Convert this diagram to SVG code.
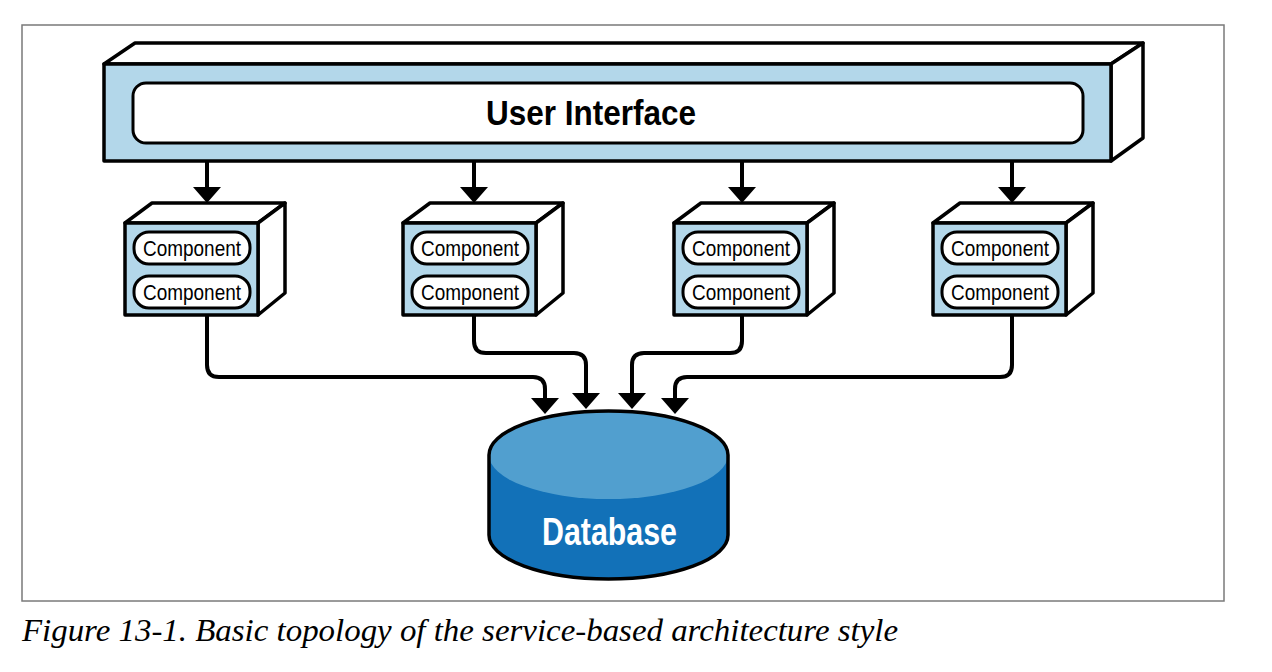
<svg xmlns="http://www.w3.org/2000/svg" width="1272" height="672" viewBox="0 0 1272 672">
<style>
.frame{fill:#ffffff;stroke:#7a7a7a;stroke-width:1.5}
.face{fill:#b3d7ea;stroke:#000;stroke-width:3.5;stroke-linejoin:round}
.side{fill:#ffffff;stroke:#000;stroke-width:3.5;stroke-linejoin:round}
.pill{fill:#ffffff;stroke:#000;stroke-width:3}
.conn{fill:none;stroke:#000;stroke-width:4}
.ui{font-family:"Liberation Sans",Arial,sans-serif;font-weight:bold;font-size:35px;fill:#000}
.comp{font-family:"Liberation Sans",Arial,sans-serif;font-size:22px;fill:#000}
.db{font-family:"Liberation Sans",Arial,sans-serif;font-weight:bold;font-size:38px;fill:#fff}
.cap{font-family:"Liberation Serif","Times New Roman",serif;font-style:italic;font-size:31px;fill:#000}
</style>
<defs>
<marker id="ah" markerUnits="userSpaceOnUse" markerWidth="16" markerHeight="28" viewBox="0 0 16 28" refX="0" refY="14" orient="auto">
<path d="M0,0 L16,14 L0,28 Z" fill="#000"/>
</marker>
</defs>
<rect class="frame" x="22" y="25" width="1202" height="576"/>

<g id="user-interface">
<polygon class="side" points="104,64 135,43 1143,43 1111,64"/>
<polygon class="side" points="1111,64 1143,43 1143,138 1111,161"/>
<rect class="face" x="104" y="64" width="1007" height="97"/>
<rect class="pill" x="133" y="83" width="950" height="60" rx="13"/>
<text class="ui" x="591" y="125" text-anchor="middle" textLength="210" lengthAdjust="spacingAndGlyphs">User Interface</text>
</g>

<g id="service-1">
<polygon class="side" points="125,223 152,203 285,203 258,223"/>
<polygon class="side" points="258,223 285,203 285,293 258,315"/>
<rect class="face" x="125" y="223" width="133" height="92"/>
<rect class="pill" x="134" y="232" width="116" height="32" rx="15"/>
<text class="comp" x="192" y="256" text-anchor="middle" textLength="98" lengthAdjust="spacingAndGlyphs">Component</text>
<rect class="pill" x="134" y="276" width="116" height="32" rx="15"/>
<text class="comp" x="192" y="300" text-anchor="middle" textLength="98" lengthAdjust="spacingAndGlyphs">Component</text>
</g>

<g id="service-2">
<polygon class="side" points="403,223 430,203 563,203 536,223"/>
<polygon class="side" points="536,223 563,203 563,293 536,315"/>
<rect class="face" x="403" y="223" width="133" height="92"/>
<rect class="pill" x="412" y="232" width="116" height="32" rx="15"/>
<text class="comp" x="470" y="256" text-anchor="middle" textLength="98" lengthAdjust="spacingAndGlyphs">Component</text>
<rect class="pill" x="412" y="276" width="116" height="32" rx="15"/>
<text class="comp" x="470" y="300" text-anchor="middle" textLength="98" lengthAdjust="spacingAndGlyphs">Component</text>
</g>

<g id="service-3">
<polygon class="side" points="674,223 701,203 834,203 807,223"/>
<polygon class="side" points="807,223 834,203 834,293 807,315"/>
<rect class="face" x="674" y="223" width="133" height="92"/>
<rect class="pill" x="683" y="232" width="116" height="32" rx="15"/>
<text class="comp" x="741" y="256" text-anchor="middle" textLength="98" lengthAdjust="spacingAndGlyphs">Component</text>
<rect class="pill" x="683" y="276" width="116" height="32" rx="15"/>
<text class="comp" x="741" y="300" text-anchor="middle" textLength="98" lengthAdjust="spacingAndGlyphs">Component</text>
</g>

<g id="service-4">
<polygon class="side" points="933,223 960,203 1093,203 1066,223"/>
<polygon class="side" points="1066,223 1093,203 1093,293 1066,315"/>
<rect class="face" x="933" y="223" width="133" height="92"/>
<rect class="pill" x="942" y="232" width="116" height="32" rx="15"/>
<text class="comp" x="1000" y="256" text-anchor="middle" textLength="98" lengthAdjust="spacingAndGlyphs">Component</text>
<rect class="pill" x="942" y="276" width="116" height="32" rx="15"/>
<text class="comp" x="1000" y="300" text-anchor="middle" textLength="98" lengthAdjust="spacingAndGlyphs">Component</text>
</g>

<g id="database">
<path d="M489,455 V535 A119.5,44 0 0 0 728,535 V455 Z" fill="#1271b8"/>
<ellipse cx="608.5" cy="455" rx="119.5" ry="44" fill="#519fcf"/>
<path d="M489,455 A119.5,44 0 0 1 728,455" fill="none" stroke="#000" stroke-width="3.5"/>
<path d="M489,455 V535 A119.5,44 0 0 0 728,535 V455" fill="none" stroke="#000" stroke-width="3.5"/>
<text class="db" x="609.5" y="545" text-anchor="middle" textLength="135" lengthAdjust="spacingAndGlyphs">Database</text>
</g>

<g id="connectors">
<path class="conn" d="M207,161 V187" marker-end="url(#ah)"/>
<path class="conn" d="M474,161 V187" marker-end="url(#ah)"/>
<path class="conn" d="M742,161 V187" marker-end="url(#ah)"/>
<path class="conn" d="M1012,161 V187" marker-end="url(#ah)"/>
<path class="conn" d="M207,315 V365 Q207,377 219,377 H533 Q545,377 545,389 V398" marker-end="url(#ah)"/>
<path class="conn" d="M474,315 V341 Q474,353 486,353 H574 Q586,353 586,365 V393" marker-end="url(#ah)"/>
<path class="conn" d="M742,315 V341 Q742,353 730,353 H644 Q632,353 632,365 V393" marker-end="url(#ah)"/>
<path class="conn" d="M1012,315 V365 Q1012,377 1000,377 H687 Q675,377 675,389 V398" marker-end="url(#ah)"/>
</g>

<text class="cap" x="22" y="641" textLength="876" lengthAdjust="spacingAndGlyphs">Figure 13-1. Basic topology of the service-based architecture style</text>
</svg>
